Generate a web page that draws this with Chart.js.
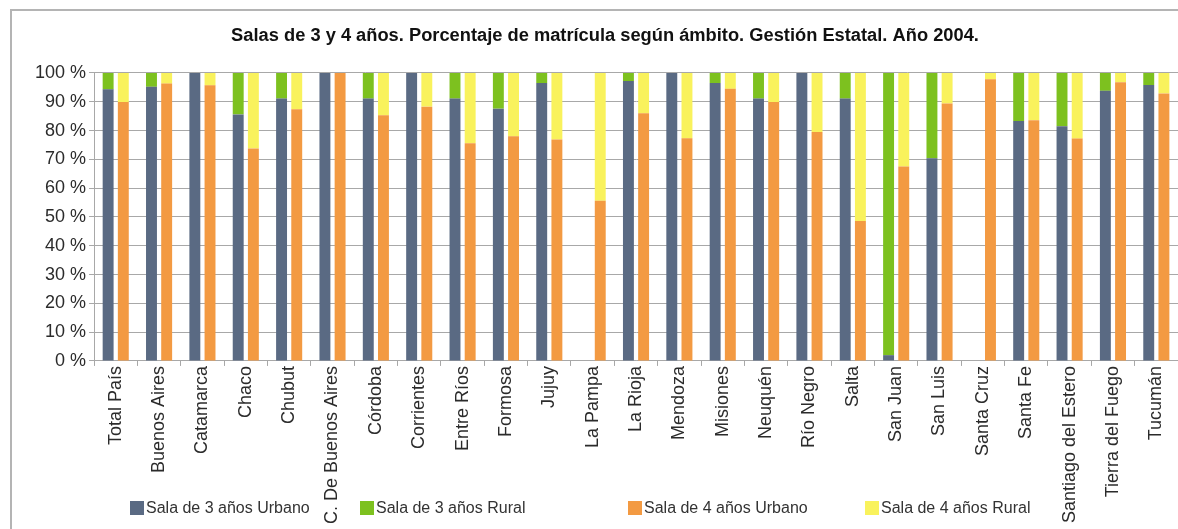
<!DOCTYPE html>
<html>
<head>
<meta charset="utf-8">
<script src="https://cdn.jsdelivr.net/npm/chart.js@4/dist/chart.umd.min.js"></script>
<style>
  body { margin: 0; background: #fff; }
  #wrap { position: relative; width: 1178px; height: 529px; overflow: hidden; font-family: "Liberation Sans", Arial, sans-serif; }
  #frame { position: absolute; left: 10px; top: 9px; width: 1200px; height: 560px; border: 2px solid #b4b4b4; box-sizing: border-box; }
  #myChart { position: absolute; left: 0; top: 0; }
  .leg { position: absolute; top: 498px; font-size: 16px; color: #333; white-space: nowrap; line-height: 20px; }
  .leg span { display: inline-block; width: 14px; height: 14px; vertical-align: -2px; margin-right: 2px; }
</style>
</head>
<body>
<div id="wrap">
  <div id="frame"></div>
  <canvas id="myChart" width="1178" height="529"></canvas>
  <div id="legend"></div>
</div>
<script>
var provincias = ["Total País", "Buenos Aires", "Catamarca", "Chaco", "Chubut", "C. De Buenos Aires", "Córdoba", "Corrientes", "Entre Ríos", "Formosa", "Jujuy", "La Pampa", "La Rioja", "Mendoza", "Misiones", "Neuquén", "Río Negro", "Salta", "San Juan", "San Luis", "Santa Cruz", "Santa Fe", "Santiago del Estero", "Tierra del Fuego", "Tucumán"];

var sala3Urbano = [94.3, 95.2, 100, 85.6, 91.1, 100, 91.1, 100, 91.1, 87.6, 96.5, 0, 97.2, 100, 96.5, 91.1, 100, 91.1, 2.0, 70.4, 0, 83.3, 81.5, 93.8, 95.8];
var sala3Rural  = [5.7, 4.8, 0, 14.4, 8.9, 0, 8.9, 0, 8.9, 12.4, 3.5, 0, 2.8, 0, 3.5, 8.9, 0, 8.9, 98.0, 29.6, 0, 16.7, 18.5, 6.2, 4.2];
var sala4Urbano = [89.9, 96.3, 95.7, 73.8, 87.4, 100, 85.3, 88.3, 75.6, 78.0, 76.9, 55.6, 86.0, 77.3, 94.5, 89.9, 79.5, 48.6, 67.5, 89.4, 97.8, 83.6, 77.2, 96.8, 92.9];
var sala4Rural  = [10.1, 3.7, 4.3, 26.2, 12.6, 0, 14.7, 11.7, 24.4, 22.0, 23.1, 44.4, 14.0, 22.7, 5.5, 10.1, 20.5, 51.4, 32.5, 10.6, 2.2, 16.4, 22.8, 3.2, 7.1];

var yTicks = [0, 10, 20, 30, 40, 50, 60, 70, 80, 90, 100];

var series = [
  { label: "Sala de 3 años Urbano", data: sala3Urbano, color: "#5a6a83", stack: "s3" },
  { label: "Sala de 3 años Rural",  data: sala3Rural,  color: "#7dc11f", stack: "s3" },
  { label: "Sala de 4 años Urbano", data: sala4Urbano, color: "#f39a42", stack: "s4" },
  { label: "Sala de 4 años Rural",  data: sala4Rural,  color: "#f9f25c", stack: "s4" }
];
var legendLeft = [130, 360, 628, 865];

var txt = "#2b2b2b";
var gridColor = "#a8a8a8";
var fontFam = "'Liberation Sans', Arial, sans-serif";

var datasets = series.map(function (s) {
  return {
    label: s.label,
    data: s.data,
    backgroundColor: s.color,
    stack: s.stack,
    borderWidth: 0,
    categoryPercentage: 0.7,
    barPercentage: 0.72
  };
});

var ctx = document.getElementById("myChart").getContext("2d");
var myChart = new Chart(ctx, {
  type: "bar",
  data: { labels: provincias, datasets: datasets },
  options: {
    responsive: false,
    animation: false,
    layout: { padding: { left: 32, right: 0, top: 0, bottom: 5 } },
    plugins: {
      legend: { display: false },
      tooltip: { enabled: false },
      title: {
        display: true,
        text: "Salas de 3 y 4 años. Porcentaje de matrícula según ámbito. Gestión Estatal. Año 2004.",
        color: "#111",
        font: { family: fontFam, size: 18.3, weight: "bold" },
        padding: { top: 25, bottom: 26 }
      }
    },
    scales: {
      x: {
        stacked: true,
        grid: { drawOnChartArea: false, drawTicks: true, tickLength: 5, color: gridColor },
        border: { color: gridColor },
        ticks: {
          color: txt,
          minRotation: 90,
          maxRotation: 90,
          autoSkip: false,
          padding: 0,
          font: { family: fontFam, size: 18 }
        }
      },
      y: {
        stacked: true,
        min: 0,
        max: 100,
        afterBuildTicks: function (axis) {
          axis.ticks = yTicks.map(function (v) { return { value: v }; });
        },
        grid: { color: gridColor, tickLength: 5 },
        border: { color: gridColor },
        ticks: {
          color: txt,
          padding: 3,
          font: { family: fontFam, size: 18 },
          callback: function (v) { return v + " %"; }
        }
      }
    }
  }
});

var legend = document.getElementById("legend");
series.forEach(function (s, i) {
  var d = document.createElement("div");
  d.className = "leg";
  d.style.left = legendLeft[i] + "px";
  d.innerHTML = '<span style="background:' + s.color + '"></span>' + s.label;
  legend.appendChild(d);
});
</script>
</body>
</html>
